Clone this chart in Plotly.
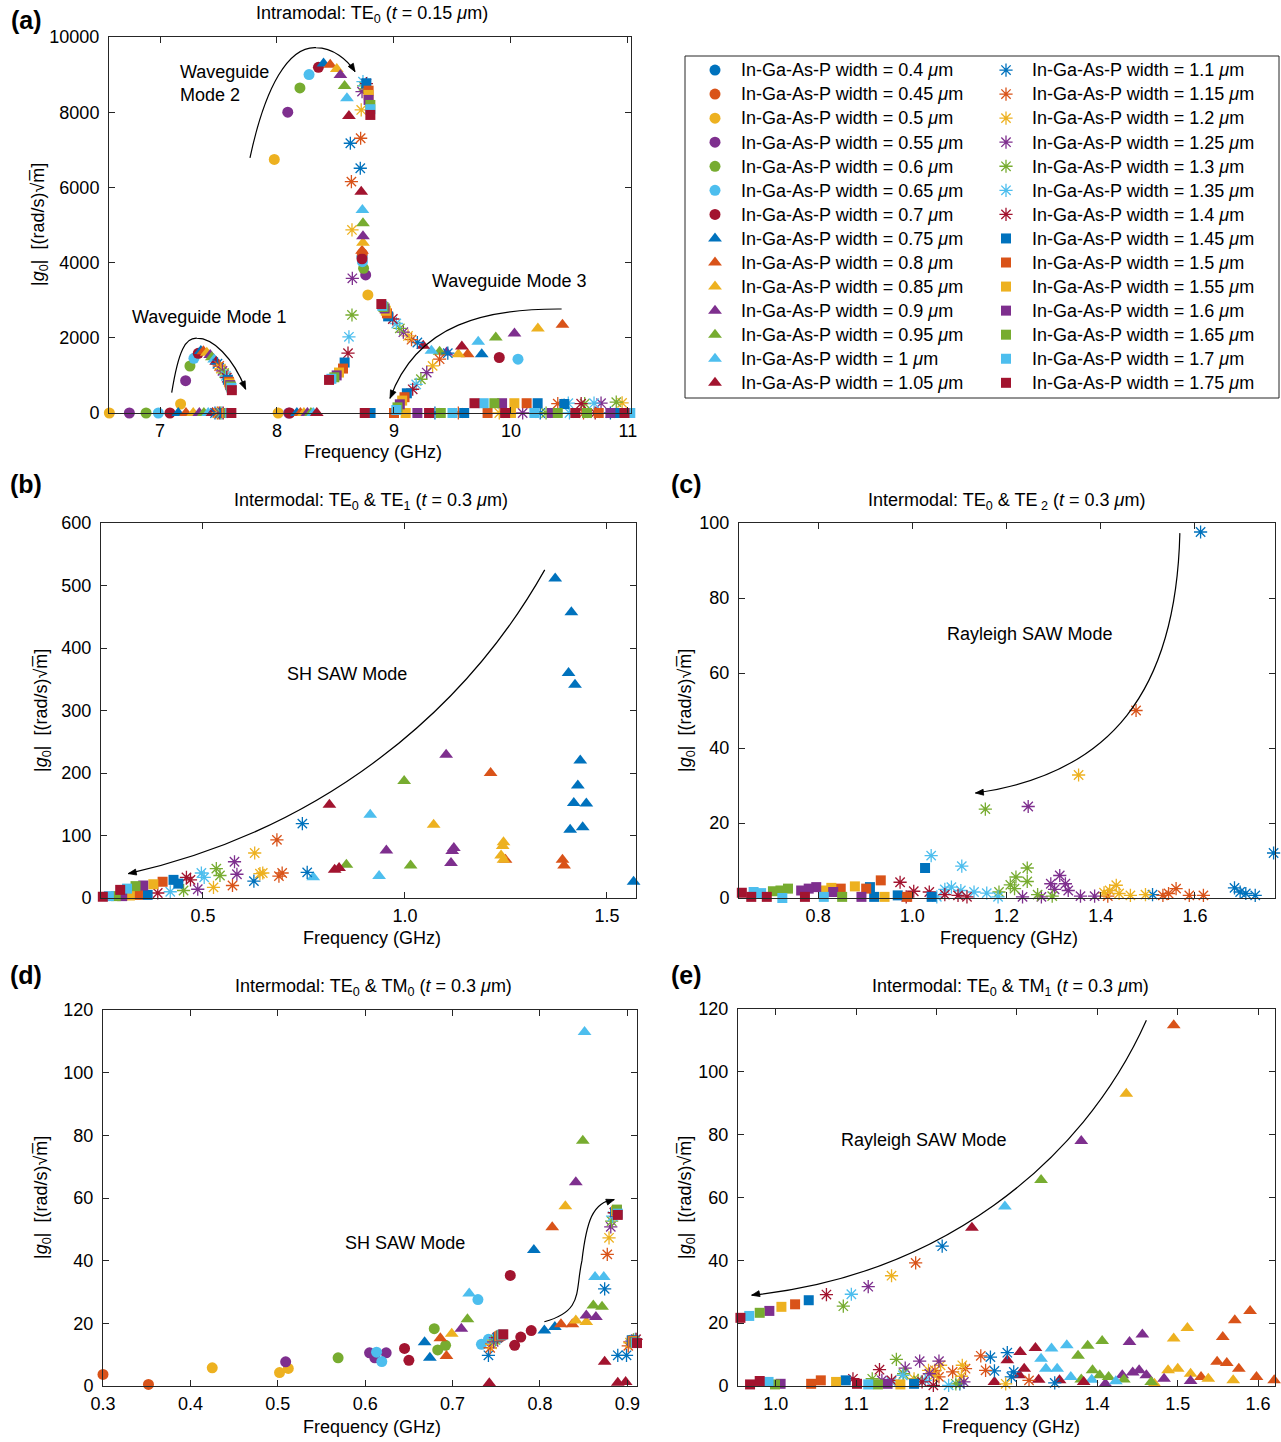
import plotly.graph_objects as go

W, H = 1281, 1442

WIDTHS = [0.4, 0.45, 0.5, 0.55, 0.6, 0.65, 0.7,
          0.75, 0.8, 0.85, 0.9, 0.95, 1.0, 1.05,
          1.1, 1.15, 1.2, 1.25, 1.3, 1.35, 1.4,
          1.45, 1.5, 1.55, 1.6, 1.65, 1.7, 1.75]
COLORS = ['#0072BD', '#D95319', '#EDB120', '#7E2F8E', '#77AC30', '#4DBEEE', '#A2142F']
SYMBOLS = ['circle', 'triangle-up', 'asterisk-open', 'square']
SIZES = [11, 12, 11, 10]

# ---- panel (a): Intramodal TE0, t = 0.15 um  (freq GHz, |g0|) ----
A = {
    0.4: ([8.727], [4158]),
    0.45: ([8.729], [4240]),
    0.5: ([6.567, 7.176, 7.977, 8.01, 8.777], [0, 239, 6743, 0, 3139]),
    0.55: ([6.738, 7.219, 8.092, 8.758, 8.1], [0, 859, 8000, 3671, 0]),
    0.6: ([6.881, 7.256, 8.196, 8.74], [0, 1250, 8646, 3849]),
    0.65: ([6.986, 7.29, 8.274, 8.73, 10.06], [0, 1455, 9000, 4025, 1431]),
    0.7: ([7.085, 7.327, 8.109, 8.354, 8.727, 9.9], [0, 1588, 0, 9195, 4100, 1476]),
    0.75: ([7.156, 7.349, 8.17, 8.398, 9.75], [0, 1650, 0, 9292, 1564]),
    0.8: ([7.222, 7.371, 8.2, 8.455, 8.727, 9.63, 10.44], [0, 1640, 0, 9265, 4317, 1564, 2347]),
    0.85: ([7.284, 7.4, 8.23, 8.511, 8.735, 9.55, 10.23], [0, 1600, 0, 9150, 4530, 1564, 2249]),
    0.9: ([7.336, 7.429, 8.26, 8.542, 8.735, 9.45, 10.03], [0, 1545, 0, 8991, 4700, 1609, 2116]),
    0.95: ([7.375, 7.443, 8.29, 8.578, 8.735, 9.39, 9.87], [0, 1485, 0, 8698, 5046, 1627, 2009]),
    1.0: ([7.412, 7.463, 8.31, 8.598, 8.73, 9.32, 9.72], [0, 1420, 0, 8371, 5400, 1653, 1893]),
    1.05: ([7.449, 7.48, 8.34, 8.615, 8.72, 9.25, 9.58], [0, 1360, 0, 7900, 5887, 1787, 1769]),
    1.1: ([7.47, 7.491, 8.627, 8.712, 9.2, 9.46, 9.35, 10.25, 10.85], [0, 1310, 7174, 6509, 1875, 1591, 0, 0, 0]),
    1.15: ([7.49, 7.506, 8.715, 8.636, 9.15, 9.39, 9.55, 10.4, 10.62], [0, 1250, 7307, 6153, 1950, 1431, 0, 250, 0]),
    1.2: ([7.5, 7.52, 8.72, 8.641, 9.12, 9.33, 9.9, 10.95], [0, 1180, 8060, 4868, 2050, 1253, 0, 270]),
    1.25: ([7.51, 7.534, 8.727, 8.644, 9.08, 9.28, 10.1, 10.77], [0, 1120, 8547, 3583, 2150, 1076, 0, 260]),
    1.3: ([7.52, 7.549, 8.74, 8.641, 9.05, 9.23, 10.3, 10.63, 10.9], [0, 1060, 8700, 2607, 2250, 898, 0, 250, 290]),
    1.35: ([7.53, 7.563, 8.735, 8.615, 9.02, 9.19, 10.5, 10.49, 10.71], [0, 990, 8813, 2027, 2380, 760, 0, 260, 260]),
    1.4: ([7.54, 7.571, 8.764, 8.607, 8.99, 9.16, 10.6, 10.72], [0, 940, 8760, 1591, 2500, 631, 250, 0]),
    1.45: ([7.55, 7.58, 8.764, 8.578, 8.95, 9.11, 10.228, 10.456, 8.8, 9.6, 10.9], [0, 884, 8770, 1342, 2570, 524, 260, 240, 0, 0, 0]),
    1.5: ([7.565, 7.589, 8.783, 8.564, 8.94, 9.09, 10.134, 9.0, 9.8, 10.75], [0, 830, 8573, 1182, 2650, 420, 260, 0, 0, 0]),
    1.55: ([7.575, 7.594, 8.783, 8.53, 8.93, 9.07, 10.029, 9.1, 10.0, 11.0], [0, 786, 8459, 1076, 2720, 330, 260, 0, 0, 0]),
    1.6: ([7.585, 7.6, 8.783, 8.51, 8.92, 9.05, 9.924, 9.2, 10.35, 10.85], [0, 741, 8326, 1000, 2780, 231, 260, 0, 0, 0]),
    1.65: ([7.59, 7.606, 8.798, 8.49, 8.91, 9.03, 9.858, 9.4, 10.4, 10.65], [0, 705, 8193, 950, 2820, 150, 260, 0, 0, 0]),
    1.7: ([7.6, 7.611, 8.798, 8.465, 8.9, 9.02, 9.767, 9.5, 10.2, 11.02], [0, 670, 8079, 910, 2850, 80, 260, 0, 0, 0]),
    1.75: ([7.61, 7.614, 8.798, 8.445, 8.892, 9.688, 8.75, 9.3, 9.95, 10.55, 10.97], [0, 607, 7927, 880, 2898, 260, 0, 0, 0, 0, 0]),
}

# ---- panel (b): TE0 & TE1 ----
B = {
    0.75: ([1.372, 1.412, 1.405, 1.421, 1.434, 1.428, 1.418, 1.449, 1.409, 1.440, 1.566],
           [511, 457, 360, 341, 220, 180, 152, 151, 109, 113, 26]),
    0.8: ([1.212, 1.39, 1.394, 1.249], [200, 61, 52, 61]),
    0.85: ([1.071, 1.244, 1.242, 1.238, 1.244], [117, 89, 83, 68, 61]),
    0.9: ([1.102, 0.954, 1.121, 1.117, 1.114], [229, 76, 80, 75, 56]),
    0.95: ([0.998, 0.855, 1.014], [187, 53, 52]),
    1.0: ([0.914, 0.936, 0.773], [133, 35, 33]),
    1.05: ([0.813, 0.826, 0.837], [149, 45, 48]),
    1.1: ([0.746, 0.758, 0.626], [119, 41, 27]),
    1.15: ([0.683, 0.696, 0.573, 0.688], [93, 40, 20, 35]),
    1.2: ([0.628, 0.641, 0.526, 0.648], [72, 39, 17, 40]),
    1.25: ([0.578, 0.584, 0.487], [58, 38, 14]),
    1.3: ([0.533, 0.542, 0.452], [47, 36, 12]),
    1.35: ([0.496, 0.503, 0.419], [40, 33, 10]),
    1.4: ([0.459, 0.469, 0.388], [33, 29, 8]),
    1.45: ([0.427, 0.439, 0.363], [29, 23, 5]),
    1.5: ([0.40, 0.339], [26, 5]),
    1.55: ([0.377, 0.319], [22, 4]),
    1.6: ([0.352, 0.30], [20, 3]),
    1.65: ([0.333, 0.284], [19, 3]),
    1.7: ([0.312, 0.267], [15, 3]),
    1.75: ([0.295, 0.252], [13, 2]),
}

# ---- panel (c): TE0 & TE2 ----
C = {
    1.1: ([1.612, 1.767, 1.684, 1.696, 1.708, 1.728, 1.51], [97.6, 12, 2.7, 1.6, 1.2, 0.7, 0.9]),
    1.15: ([1.475, 1.56, 1.544, 1.588, 1.618, 1.415, 1.532], [50, 2.5, 1.2, 0.7, 0.7, 0.5, 0.7]),
    1.2: ([1.353, 1.433, 1.419, 1.407, 1.463, 1.495, 1.439], [32.8, 3.4, 2.0, 1.4, 0.7, 0.9, 1.2]),
    1.25: ([1.246, 1.313, 1.294, 1.325, 1.302, 1.331, 1.357, 1.387, 1.234, 1.274],
           [24.4, 6, 3.8, 3.8, 2.3, 2, 0.5, 0.5, 0.3, 0.3]),
    1.3: ([1.155, 1.244, 1.22, 1.244, 1.208, 1.217, 1.184, 1.266, 1.297],
          [23.7, 8, 5.6, 4.4, 3.5, 2.5, 1.6, 0.9, 0.5]),
    1.35: ([1.04, 1.105, 1.083, 1.069, 1.103, 1.131, 1.158, 1.052, 1.182],
           [11.3, 8.5, 2.9, 2.3, 2, 1.6, 1.3, 0.3, 0.3]),
    1.4: ([0.974, 1.003, 1.036, 1.069, 1.097, 1.116, 0.987], [4.2, 1.8, 1.6, 0.9, 0.7, 0.3, 0.3]),
    1.45: ([1.027, 0.91, 0.969, 1.041, 0.919], [8, 2.9, 0.7, 0.3, 0.3]),
    1.5: ([0.933, 0.902, 0.848, 0.989], [4.7, 2.5, 2.5, 0.3]),
    1.55: ([0.878, 0.828, 0.812, 0.941], [3.1, 2.7, 2.0, 0.3]),
    1.6: ([0.796, 0.78, 0.764, 0.832, 0.892], [2.9, 2.5, 2.0, 1.6, 0.3]),
    1.65: ([0.736, 0.72, 0.704, 0.851], [2.5, 2.0, 1.8, 0.3]),
    1.7: ([0.663, 0.679, 0.724, 0.812], [1.6, 1.3, 0, 0.3]),
    1.75: ([0.638, 0.658, 0.691, 0.772], [1.4, 0.3, 0.3, 0.3]),
}

# ---- panel (d): TE0 & TM0 ----
D = {
    0.45: ([0.3, 0.352], [3.7, 0.5]),
    0.5: ([0.425, 0.502, 0.512], [5.8, 4.3, 5.6]),
    0.55: ([0.509, 0.605, 0.611, 0.624], [7.7, 10.6, 9, 10.6]),
    0.6: ([0.569, 0.679, 0.683, 0.692], [9, 18.3, 11.5, 13]),
    0.65: ([0.613, 0.619, 0.729, 0.733, 0.741], [10.8, 7.8, 27.6, 13.3, 14.9]),
    0.7: ([0.645, 0.65, 0.766, 0.771, 0.778, 0.79], [12, 8.2, 35.3, 13, 15.6, 17.7]),
    0.75: ([0.668, 0.674, 0.793, 0.805, 0.817], [14, 9, 43.4, 17.7, 18.8]),
    0.8: ([0.686, 0.693, 0.814, 0.824, 0.837], [15.2, 9.6, 50.7, 19.7, 19.7]),
    0.85: ([0.699, 0.829, 0.841, 0.853], [16.7, 57.4, 20.9, 20.4]),
    0.9: ([0.71, 0.841, 0.853, 0.864], [18.3, 65, 22.5, 22]),
    0.95: ([0.717, 0.849, 0.861, 0.871], [21.3, 78.3, 25.7, 25.3]),
    1.0: ([0.719, 0.851, 0.863, 0.873], [29.5, 113, 34.8, 34.8]),
    1.05: ([0.742, 0.874, 0.889, 0.898], [0.9, 7.7, 1, 1.3]),
    1.1: ([0.741, 0.874, 0.889, 0.899], [9.8, 31, 9.8, 9.8]),
    1.15: ([0.743, 0.877, 0.901], [12.2, 42, 12.8]),
    1.2: ([0.745, 0.879, 0.903], [13.3, 47.3, 13.8]),
    1.25: ([0.747, 0.881, 0.905], [14.1, 50.8, 14.3]),
    1.3: ([0.749, 0.882, 0.907], [14.7, 52.6, 14.7]),
    1.35: ([0.75, 0.883, 0.909], [15.1, 54.2, 14.9]),
    1.4: ([0.751, 0.885, 0.91], [15.4, 55.3, 14.9]),
    1.45: ([0.752, 0.886, 0.905], [15.6, 55.5, 14.6]),
    1.5: ([0.753, 0.887, 0.906], [15.8, 55.7, 14.4]),
    1.55: ([0.754, 0.887, 0.907], [16.0, 55.9, 14.2]),
    1.6: ([0.755, 0.888, 0.908], [16.1, 56.1, 14.0]),
    1.65: ([0.756, 0.888, 0.909], [16.3, 56.3, 13.9]),
    1.7: ([0.757, 0.889, 0.910], [16.4, 55.0, 13.8]),
    1.75: ([0.758, 0.889, 0.911], [16.5, 54.6, 13.7]),
}

# ---- panel (e): TE0 & TM1 ----
E = {
    0.8: ([1.495, 1.59, 1.571, 1.556, 1.549, 1.561, 1.576, 1.529, 1.598, 1.62],
          [114.8, 23.9, 20.9, 15.6, 7.7, 7.3, 5.5, 2.9, 2.9, 1.8]),
    0.85: ([1.436, 1.512, 1.495, 1.5, 1.488, 1.516, 1.538, 1.569, 1.471],
           [93, 18.5, 15.1, 5.5, 5.0, 3.9, 2.3, 1.8, 0.7]),
    0.9: ([1.38, 1.456, 1.44, 1.452, 1.444, 1.431, 1.461, 1.483, 1.516, 1.41],
          [78, 16.4, 14, 5, 4.3, 3.4, 3.4, 2.3, 1.6, 0.7]),
    0.95: ([1.33, 1.406, 1.388, 1.376, 1.394, 1.403, 1.414, 1.433, 1.38, 1.467],
           [65.6, 14.3, 12.8, 9.6, 5, 3.4, 2.9, 2.1, 2.1, 1.3]),
    1.0: ([1.285, 1.362, 1.343, 1.33, 1.336, 1.35, 1.367, 1.393, 1.423],
          [57.1, 13, 11.9, 8.7, 5.5, 5.5, 2.9, 2, 1.5]),
    1.05: ([1.244, 1.323, 1.304, 1.288, 1.309, 1.303, 1.327, 1.353, 1.383, 1.272],
           [50.4, 12.1, 10.8, 8.2, 5.5, 3.4, 2, 1.8, 1.3, 1.3]),
    1.1: ([1.207, 1.288, 1.267, 1.272, 1.296, 1.293, 1.347, 1.229],
          [44.5, 10.6, 9.2, 4.8, 4.5, 2.9, 1, 0.7]),
    1.15: ([1.174, 1.255, 1.261, 1.236, 1.198, 1.22, 1.203, 1.315],
           [39.2, 9.6, 5, 5.5, 5, 4.5, 2.9, 1.8]),
    1.2: ([1.144, 1.232, 1.19, 1.205, 1.197, 1.231, 1.286, 1.172],
          [35.1, 6.6, 5, 6.6, 3.4, 3.1, 0.7, 2.3]),
    1.25: ([1.115, 1.179, 1.203, 1.161, 1.191, 1.234, 1.132], [31.6, 7.9, 7.9, 5.7, 3.9, 1.3, 1.8]),
    1.3: ([1.084, 1.15, 1.159, 1.12, 1.177, 1.224], [25.4, 8.5, 3.9, 2.3, 1.8, 0.7]),
    1.35: ([1.094, 1.158, 1.186, 1.144, 1.215], [29.2, 3.4, 1.8, 1.3, 0.2]),
    1.4: ([1.063, 1.129, 1.096, 1.144, 1.182, 1.196], [29.1, 5.2, 2.3, 1.8, 1.3, 0.2]),
    1.45: ([1.041, 1.087, 1.172], [27.3, 1.8, 0.7]),
    1.5: ([1.024, 1.056, 1.044], [26, 1.8, 0.7]),
    1.55: ([1.007, 1.075, 1.155], [25.2, 1.3, 0.5]),
    1.6: ([0.992, 1.006, 1.139], [23.9, 0.7, 0.7]),
    1.65: ([0.98, 0.999, 1.127], [23.3, 0.5, 0.5]),
    1.7: ([0.967, 0.991, 1.115], [22.3, 1.3, 0.5]),
    1.75: ([0.956, 0.98, 0.968, 1.101], [21.7, 1.6, 0.5, 0.7]),
}

# ---- axis ranges / ticks ----
A_XT = [7, 8, 9, 10, 11]
A_YT = [0, 2000, 4000, 6000, 8000, 10000]
B_XT = [0.5, 1.0, 1.5]
B_YT = [0, 100, 200, 300, 400, 500, 600]
C_XT = [0.8, 1.0, 1.2, 1.4, 1.6]
C_YT = [0, 20, 40, 60, 80, 100]
D_XT = [0.3, 0.4, 0.5, 0.6, 0.7, 0.8, 0.9]
D_YT = [0, 20, 40, 60, 80, 100, 120]
E_XT = [1.0, 1.1, 1.2, 1.3, 1.4, 1.5, 1.6]
E_YT = [0, 20, 40, 60, 80, 100, 120]

PANELS = [
    # data, xref, yref, pixel box (l, r, t, b), xrange, yrange, xt, yt, xfmt
    (A, 'x', 'y', (109, 631, 37, 413), [6.564, 11.026], [0, 10000], A_XT, A_YT, '{:g}'),
    (B, 'x2', 'y2', (101, 636, 523, 898), [0.2475, 1.572], [0, 600], B_XT, B_YT, '{:.1f}'),
    (C, 'x3', 'y3', (739, 1275, 523, 898), [0.632, 1.77], [0, 100], C_XT, C_YT, '{:.1f}'),
    (D, 'x4', 'y4', (103, 637, 1010, 1386), [0.3, 0.911], [0, 120], D_XT, D_YT, '{:.1f}'),
    (E, 'x5', 'y5', (738, 1275, 1009, 1386), [0.953, 1.621], [0, 120], E_XT, E_YT, '{:.1f}'),
]

FONT = "Liberation Sans, Arial, Helvetica, sans-serif"
INK = '#262626'
FS = 18


def marker_for(i):
    kind = i // 7
    col = COLORS[i % 7]
    m = dict(symbol=SYMBOLS[kind], size=SIZES[kind], color=col)
    if kind == 2:
        m['line'] = dict(color=col, width=1.3)
    else:
        m['line'] = dict(width=0)
    return m


def label_for(w):
    return (f'<span style="font-size:{FS}px">\u2004In-Ga-As-P width = '
            f'{w:g} <i>\u03bc</i>m</span>')


fig = go.Figure()

for k, (data, xr, yr, box, xrng, yrng, xt, yt, fmt) in enumerate(PANELS):
    for i, w in enumerate(WIDTHS):
        if w not in data:
            continue
        xs, ys = data[w]
        first = (k == 0)
        fig.add_trace(go.Scatter(
            x=xs, y=ys, mode='markers', marker=marker_for(i),
            xaxis=xr, yaxis=yr, cliponaxis=False,
            name=label_for(w) if first else f'{w:g} \u03bcm',
            showlegend=first,
            legend=('legend' if i < 14 else 'legend2') if first else None,
            hovertemplate=f'width {w:g} \u03bcm<br>%{{x}} GHz, %{{y}}<extra></extra>'))

LEG = dict(yanchor='top', xanchor='left', y=1 - 53 / H,
           bgcolor='rgba(0,0,0,0)', borderwidth=0,
           font=dict(size=16.2, family=FONT, color='#000000'),
           tracegroupgap=0, itemclick=False, itemdoubleclick=False)

layout = dict(
    width=W, height=H, margin=dict(l=0, r=0, t=0, b=0, autoexpand=False),
    paper_bgcolor='white', plot_bgcolor='white',
    font=dict(family=FONT, size=FS, color='#000000'),
    legend=dict(LEG, x=695 / W),
    legend2=dict(LEG, x=986 / W),
)

for k, (data, xr, yr, box, xrng, yrng, xt, yt, fmt) in enumerate(PANELS):
    l, r, t, b = box
    sfx = '' if k == 0 else str(k + 1)
    common = dict(showline=True, linecolor=INK, linewidth=1, mirror='ticks',
                  ticks='inside', ticklen=6, tickwidth=1, tickcolor=INK,
                  showgrid=False, zeroline=False, automargin=False,
                  tickfont=dict(size=FS, color='#000000', family=FONT))
    layout['xaxis' + sfx] = dict(common, domain=[l / W, r / W], range=xrng,
                                 anchor='y' + sfx, tickvals=xt, ticklabelstandoff=1,
                                 ticktext=[fmt.format(v) for v in xt])
    layout['yaxis' + sfx] = dict(common, domain=[1 - b / H, 1 - t / H], range=yrng,
                                 anchor='x' + sfx, tickvals=yt, ticklabelstandoff=5,
                                 ticktext=[str(v) for v in yt])

fig.update_layout(**layout)


def pa(px, py, text, size=FS, bold=False, angle=0, xanchor='center', align='center'):
    fig.add_annotation(x=px / W, y=1 - py / H, xref='paper', yref='paper',
                       text=f'<b>{text}</b>' if bold else text, showarrow=False,
                       xanchor=xanchor, yanchor='middle', textangle=angle, align=align,
                       font=dict(size=size, family=FONT, color='#000000'))


YLAB = '|<i>g</i><sub>0</sub>|  [(rad/s)\u221am\u0305]'
# panel letters
pa(26, 20, '(a)', size=25, bold=True)
pa(26, 484, '(b)', size=25, bold=True)
pa(686, 484, '(c)', size=25, bold=True)
pa(26, 975, '(d)', size=25, bold=True)
pa(686, 975, '(e)', size=25, bold=True)
# titles
pa(372, 15, 'Intramodal: TE<sub>0</sub> (<i>t</i> = 0.15 <i>\u03bc</i>m)')
pa(371, 501, 'Intermodal: TE<sub>0</sub> & TE<sub>1</sub> (<i>t</i> = 0.3 <i>\u03bc</i>m)')
pa(1006, 501, 'Intermodal: TE<sub>0</sub> & TE<sub> 2</sub> (<i>t</i> = 0.3 <i>\u03bc</i>m)')
pa(373, 987, 'Intermodal: TE<sub>0</sub> & TM<sub>0</sub> (<i>t</i> = 0.3 <i>\u03bc</i>m)')
pa(1010, 987, 'Intermodal: TE<sub>0</sub> & TM<sub>1</sub> (<i>t</i> = 0.3 <i>\u03bc</i>m)')
# x labels
pa(373, 452, 'Frequency (GHz)')
pa(372, 938, 'Frequency (GHz)')
pa(1009, 938, 'Frequency (GHz)')
pa(372, 1427, 'Frequency (GHz)')
pa(1011, 1427, 'Frequency (GHz)')
# y labels
pa(40, 225, YLAB, angle=-90)
pa(42, 711, YLAB, angle=-90)
pa(686, 711, YLAB, angle=-90)
pa(42, 1198, YLAB, angle=-90)
pa(686, 1198, YLAB, angle=-90)
# mode labels
pa(178, 84, 'Waveguide<br>Mode 2', xanchor='left', align='left')
pa(130, 317, 'Waveguide Mode 1', xanchor='left')
pa(430, 281, 'Waveguide Mode 3', xanchor='left')
pa(347, 674, 'SH SAW Mode')
pa(1029, 634, 'Rayleigh SAW Mode')
pa(405, 1243, 'SH SAW Mode')
pa(923, 1140, 'Rayleigh SAW Mode')

# legend box
fig.add_shape(type='rect', xref='paper', yref='paper',
              x0=685 / W, x1=1279 / W, y0=1 - 398 / H, y1=1 - 56 / H,
              line=dict(color=INK, width=1), fillcolor='rgba(0,0,0,0)')

# curved guide arrows (path in data coordinates) + filled arrowheads
ARROWS = [
    (0, 'M 7.769,6783 C 7.9,8700 8.1,9750 8.333,9717 C 8.48,9710 8.6,9400 8.667,9079', (8.667, 9079), (-5, -8)),
    (0, 'M 7.1,540 C 7.16,1700 7.22,2000 7.314,1990 C 7.45,1990 7.62,1500 7.732,630', (7.732, 630), (-4, -9)),
    (0, 'M 10.433,2766 C 9.8,2780 9.2,2400 8.966,390', (8.966, 390), (4, -9)),
    (1, 'M 1.346,525 C 1.15,300 0.8,110 0.315,39', (0.315, 39), (10, -2)),
    (2, 'M 1.568,97.3 C 1.56,55 1.42,33 1.134,28', (1.134, 28), (10, -1)),
    (3, 'M 0.805,20.5 C 0.85,24 0.84,30 0.848,40 C 0.853,52 0.86,59 0.885,59.5', (0.885, 59.5), (-9, 3)),
    (4, 'M 1.461,116.4 C 1.38,70 1.2,35 0.97,28.9', (0.97, 28.9), (10, -2)),
]
for k, path, head, off in ARROWS:
    _, xr, yr, box, xrng, yrng = PANELS[k][:6]
    l, r, t, b = box
    sx = (r - l) / (xrng[1] - xrng[0])   # px per x unit
    sy = (b - t) / (yrng[1] - yrng[0])   # px per y unit
    fig.add_shape(type='path', xref=xr, yref=yr, path=path,
                  line=dict(color='#000000', width=1.2))
    ox, oy = off
    n = (ox ** 2 + oy ** 2) ** 0.5
    ux, uy = ox / n, oy / n          # unit vector head->tail in screen px
    L, hw = 8.0, 3.0
    bx, by = ux * L, uy * L
    p1 = (bx - uy * hw, by + ux * hw)
    p2 = (bx + uy * hw, by - ux * hw)

    def to_data(p):
        return head[0] + p[0] / sx, head[1] - p[1] / sy

    d1, d2 = to_data(p1), to_data(p2)
    tri = f'M {head[0]},{head[1]} L {d1[0]},{d1[1]} L {d2[0]},{d2[1]} Z'
    fig.add_shape(type='path', xref=xr, yref=yr, path=tri,
                  line=dict(color='#000000', width=0.8), fillcolor='#000000')

fig.write_html("out.html")
